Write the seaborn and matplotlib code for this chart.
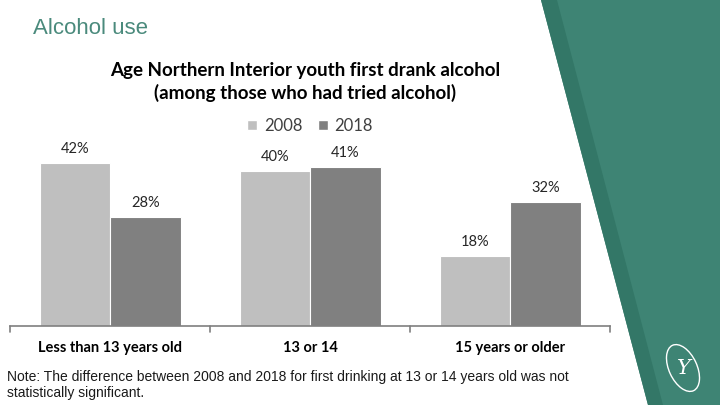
import pandas as pd
import numpy as np
import matplotlib
matplotlib.use('Agg')
import matplotlib.pyplot as plt
import seaborn as sns
from matplotlib.patches import Polygon, Ellipse, Patch

# chart values
ages = ['Less than 13 years old', '13 or 14', '15 years or older']
years = ['2008', '2018']
pct_2008 = [42, 40, 18]
pct_2018 = [28, 41, 32]

df = pd.DataFrame({
    'age': ages * 2,
    'year': [years[0]] * 3 + [years[1]] * 3,
    'pct': pct_2008 + pct_2018,
})

sns.set_style('white')
plt.rcParams['font.family'] = ['Lato', 'DejaVu Sans']

fig = plt.figure(figsize=(7.2, 4.05), dpi=100)

# decorative teal panel on the right (figure pixel coords)
bg = fig.add_axes([0, 0, 1, 1], zorder=0)
bg.set_xlim(0, 720)
bg.set_ylim(405, 0)
bg.axis('off')
bg.add_patch(Polygon([(541, 0), (720, 0), (720, 405), (648, 405)], closed=True,
                     facecolor='#3e8474', edgecolor='none'))
bg.add_patch(Polygon([(541, 0), (557, 0), (663, 405), (648, 405)], closed=True,
                     facecolor='#337767', edgecolor='none'))
bg.add_patch(Ellipse((683, 368), 28, 50, angle=-25, facecolor='none',
                     edgecolor='white', lw=1.0))
bg.text(684, 369, 'Y', color='white', fontsize=15, family='DejaVu Serif',
        style='italic', ha='center', va='center')

# main chart
ax = fig.add_axes([10 / 720, (405 - 326) / 405, 600 / 720, 186 / 405], zorder=1)
ax.patch.set_alpha(0)
sns.barplot(data=df, x='age', y='pct', hue='year', order=ages, hue_order=years,
            palette=['#bfbfbf', '#808080'], width=0.705, saturation=1,
            edgecolor='white', linewidth=0.8, ax=ax, legend=False)

for cont in ax.containers:
    ax.bar_label(cont, labels=[f'{int(v)}%' for v in cont.datavalues],
                 padding=5, fontsize=10.5, color='#262626')

ax.set_xlim(-0.5, 2.5)
ax.set_ylim(0, 47.9)
ax.set_xlabel('')
ax.set_ylabel('')
ax.set_yticks([])
ax.set_xticks([0, 1, 2])
ax.set_xticklabels(ages, fontsize=10.5, fontweight='bold', color='black')
ax.tick_params(axis='x', length=0, pad=11)
for s in ['top', 'right', 'left']:
    ax.spines[s].set_visible(False)
ax.spines['bottom'].set_color('#7f7f7f')
ax.spines['bottom'].set_linewidth(1.2)
# tick marks at category boundaries
for b in [-0.5, 0.5, 1.5, 2.5]:
    ax.plot([b, b], [0, -1.6], color='#7f7f7f', lw=1.2, clip_on=False)

# titles
fig.text(33 / 720, 1 - 28 / 405, 'Alcohol use', fontsize=16, color='#4a8a7c',
         family=['Liberation Sans', 'DejaVu Sans'], va='center', ha='left')
fig.text(305 / 720, 1 - 82 / 405,
         'Age Northern Interior youth first drank alcohol\n(among those who had tried alcohol)',
         fontsize=13.5, fontweight='bold', ha='center', va='center',
         linespacing=1.3, color='black')

handles = [Patch(facecolor='#bfbfbf'), Patch(facecolor='#808080')]
fig.legend(handles, years, loc='center', bbox_to_anchor=(310 / 720, 1 - 126 / 405),
           ncol=2, frameon=False, fontsize=12, handlelength=0.6, handleheight=0.6,
           handletextpad=0.4, columnspacing=0.9, labelcolor='#404040')

fig.text(7 / 720, 1 - 385 / 405,
         'Note: The difference between 2008 and 2018 for first drinking at 13 or 14 years old was not\nstatistically significant.',
         fontsize=10, ha='left', va='center', linespacing=1.25, color='#1a1a1a',
         family=['Liberation Sans Narrow', 'Liberation Sans', 'DejaVu Sans'])

fig.savefig('out.png', dpi=100)
